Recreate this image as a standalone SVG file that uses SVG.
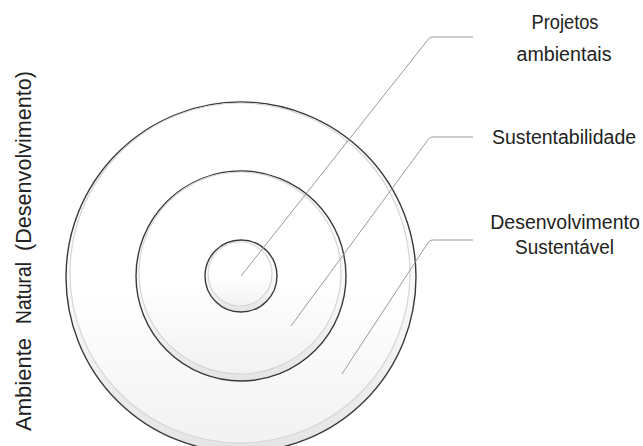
<svg xmlns="http://www.w3.org/2000/svg" width="643" height="446" viewBox="0 0 643 446">
  <defs>
    <linearGradient id="ringFill" x1="0" y1="0" x2="0" y2="1">
      <stop offset="0" stop-color="#ffffff"/>
      <stop offset="0.6" stop-color="#f8f8f8"/>
      <stop offset="1" stop-color="#e4e4e4"/>
    </linearGradient>
    <linearGradient id="glossFill" x1="0" y1="0" x2="0" y2="1">
      <stop offset="0" stop-color="#ffffff"/>
      <stop offset="0.55" stop-color="#ffffff"/>
      <stop offset="1" stop-color="#f2f2f2"/>
    </linearGradient>
  </defs>
  <style>
    .ring { fill: url(#ringFill); stroke: #3a3a3a; stroke-width: 1.4; }
    .gloss { fill: url(#glossFill); stroke: #d6d6d6; stroke-width: 1.2; }
    .leader { fill: none; stroke: #9a9a9a; stroke-width: 1; }
    .label { font-family: "Liberation Sans", Arial, sans-serif; font-size: 19.5px; fill: #222222; text-anchor: middle; }
    .side { font-family: "Liberation Sans", Arial, sans-serif; font-size: 21.5px; fill: #222222; }
  </style>
  <rect width="643" height="446" fill="#ffffff"/>

  <g id="ambiente-natural">
    <circle class="ring" cx="241" cy="277" r="175"/>
    <circle class="gloss" cx="240" cy="273" r="170"/>
  </g>
  <g id="desenvolvimento-sustentavel-ring">
    <circle class="ring" cx="241" cy="276" r="105"/>
    <circle class="gloss" cx="240" cy="273" r="101"/>
  </g>
  <g id="sustentabilidade-ring">
    <circle class="ring" cx="241" cy="276" r="36"/>
    <circle class="gloss" cx="240" cy="274" r="32"/>
  </g>

  <g id="connectors">
    <path class="leader" d="M241 276 L428.5 39 Q430 37 432.5 37 L473 37"/>
    <path class="leader" d="M291 326 L428.5 139 Q430 137 432.5 137 L473 137"/>
    <path class="leader" d="M342 374 L428.5 242 Q430 240 432.5 240 L473 240"/>
  </g>

  <g id="label-projetos">
    <text class="label" x="565" y="29" textLength="67" lengthAdjust="spacingAndGlyphs">Projetos</text>
    <text class="label" x="564" y="61" textLength="95" lengthAdjust="spacingAndGlyphs">ambientais</text>
  </g>
  <g id="label-sustentabilidade">
    <text class="label" x="564" y="144">Sustentabilidade</text>
  </g>
  <g id="label-desenvolvimento">
    <text class="label" x="565" y="229">Desenvolvimento</text>
    <text class="label" x="564.5" y="254" textLength="99" lengthAdjust="spacingAndGlyphs">Sustentável</text>
  </g>
  <g id="label-ambiente">
    <text class="side" transform="translate(31,431) rotate(-90)" textLength="93" lengthAdjust="spacingAndGlyphs">Ambiente</text>
    <text class="side" transform="translate(31,324) rotate(-90)" textLength="62" lengthAdjust="spacingAndGlyphs">Natural</text>
    <text class="side" transform="translate(31,251) rotate(-90)" textLength="180" lengthAdjust="spacingAndGlyphs">(Desenvolvimento)</text>
  </g>
</svg>
